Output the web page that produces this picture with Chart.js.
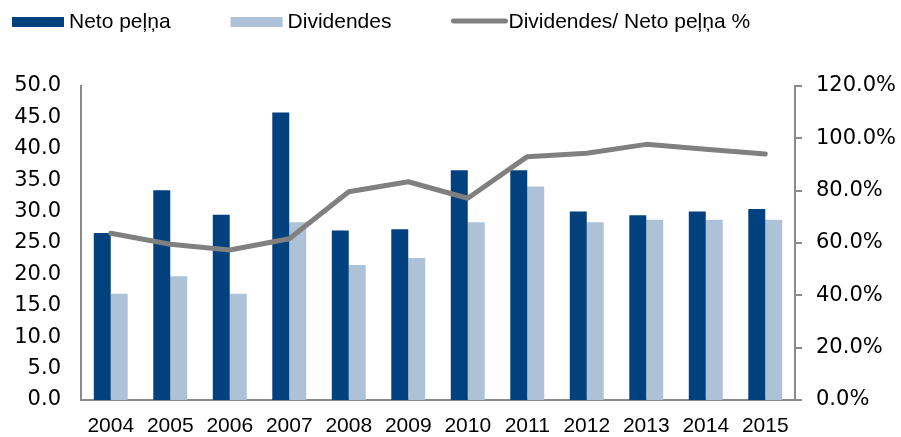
<!DOCTYPE html>
<html>
<head>
<meta charset="utf-8">
<script src="https://cdn.jsdelivr.net/npm/chart.js@4/dist/chart.umd.min.js"></script>
<style>
	html, body { margin:0; padding:0; background:#fff; }
	#wrap { position:relative; width:901px; height:437px; }
</style>
</head>
<body>
<div id="wrap"><canvas id="chart" width="901" height="437"></canvas></div>
<script>
	// data
	var years      = ["2004","2005","2006","2007","2008","2009","2010","2011","2012","2013","2014","2015"];
	var netoPelna  = [26.6, 33.4, 29.5, 45.8, 27.0, 27.2, 36.6, 36.6, 30.0, 29.4, 30.0, 30.4];
	var dividendes = [16.9, 19.7, 16.9, 28.3, 21.5, 22.6, 28.3, 34.0, 28.3, 28.7, 28.7, 28.7];
	var ratioPct   = [63.7, 59.5, 57.3, 61.6, 79.6, 83.4, 77.1, 93.0, 94.3, 97.7, 95.8, 94.0];

	var labels = {
		neto : "Neto peļņa",
		div  : "Dividendes",
		ratio: "Dividendes/ Neto peļņa %"
	};

	var colors = {
		dark : "#00417e",
		light: "#adc2d7",
		line : "#808080",
		axis : "#8a8a8a"
	};

	Chart.defaults.font.family = "'Liberation Sans', Arial, sans-serif";
	Chart.defaults.font.size = 21;
	Chart.defaults.color = "#000";

	// the value axes use a wider face, as in the original
	var valueFont = { family: "'DejaVu Sans', sans-serif", size: 21 };

	// legend drawn by hand at the top left, like the original
	var topLegend = {
		id : "topLegend",
		afterDraw : function(chart){
			var ctx = chart.ctx,
				x = 12,
				y = 22,
				boxW = 52,
				boxH = 10,
				gap = 5,
				spacing = 60;

			ctx.save();
			ctx.font = "21px 'Liberation Sans', Arial, sans-serif";
			ctx.textBaseline = "middle";

			chart.data.datasets.forEach(function(ds){
				if (ds.type === "line") {
					ctx.strokeStyle = ds.borderColor;
					ctx.lineWidth = 5;
					ctx.lineCap = "round";
					ctx.beginPath();
					ctx.moveTo(x + 2, y - 1);
					ctx.lineTo(x + boxW + 2, y - 1);
					ctx.stroke();
				} else {
					ctx.fillStyle = ds.backgroundColor;
					ctx.fillRect(x, y - boxH/2, boxW, boxH);
				}
				ctx.fillStyle = "#000";
				ctx.fillText(ds.label, x + boxW + gap, y);
				x += boxW + gap + ctx.measureText(ds.label).width + spacing;
			});
			ctx.restore();
		}
	};

	new Chart(document.getElementById("chart"), {
		type : "bar",
		data : {
			labels : years,
			datasets : [
				{ label: labels.neto, data: netoPelna, backgroundColor: colors.dark, yAxisID: "y", order: 2 },
				{ label: labels.div,  data: dividendes, backgroundColor: colors.light, yAxisID: "y", order: 2 },
				{
					type: "line", label: labels.ratio, data: ratioPct, yAxisID: "y1", order: 0,
					borderColor: colors.line, borderWidth: 5, pointRadius: 0, tension: 0,
					borderCapStyle: "round", borderJoinStyle: "round", fill: false
				}
			]
		},
		options : {
			responsive : false,
			animation : false,
			layout : { padding: { top: 86, left: 0, right: 0, bottom: 0 } },
			datasets : { bar: { categoryPercentage: 0.57, barPercentage: 1.0 } },
			plugins : { legend: { display: false }, tooltip: { enabled: false } },
			scales : {
				x : {
					grid : { display: false, drawTicks: false },
					border : { display: true, color: colors.axis, width: 2 },
					ticks : { padding: 14, maxRotation: 0, autoSkip: false },
					afterFit : function(scale){ scale.height = 37; }
				},
				y : {
					position : "left",
					min : 0, max : 50,
					grid : { display: false, drawTicks: false },
					border : { display: true, color: colors.axis, width: 2 },
					ticks : { stepSize: 5, padding: 20, font: valueFont, callback: function(v){ return v.toFixed(1); } },
					afterFit : function(scale){ scale.width = 81; }
				},
				y1 : {
					position : "right",
					min : 0, max : 120,
					grid : { display: true, drawOnChartArea: false, drawTicks: true, tickLength: 7, color: colors.axis, lineWidth: 2 },
					border : { display: true, color: colors.axis, width: 2 },
					ticks : { stepSize: 20, padding: 14, font: valueFont, callback: function(v){ return v.toFixed(1) + "%"; } },
					afterFit : function(scale){ scale.width = 106; }
				}
			}
		},
		plugins : [topLegend]
	});
</script>
</body>
</html>
